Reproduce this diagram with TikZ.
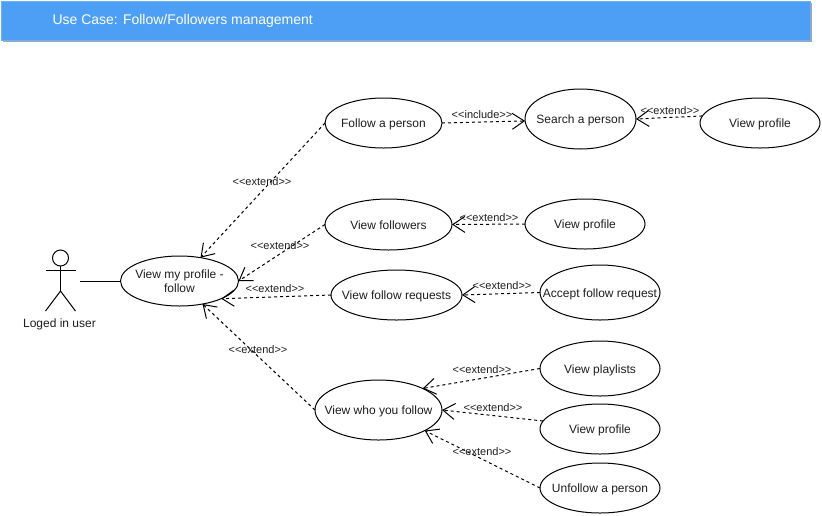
\documentclass[tikz,border=0pt]{standalone}
\usepackage{fontspec}
\setmainfont{Liberation Sans}
\usetikzlibrary{positioning}
\usetikzlibrary{arrows.meta}
\usetikzlibrary{shapes.geometric}
\usetikzlibrary{shadows}
\definecolor{headerblue}{HTML}{4C9FF5}
\definecolor{headerline}{HTML}{6CB0F6}
\definecolor{inktext}{HTML}{1E1E1E}
\newcommand{\extendlabel}{<{}<extend>{}>}
\newcommand{\includelabel}{<{}<include>{}>}
\tikzset{
	usecase/.style = {draw = black, fill = white, ellipse, inner xsep = -25pt, inner ysep = -5pt, outer sep = 0pt, align = center, text height = 9pt, text depth = 0pt, text = inktext, font = \fontsize{12}{14}\selectfont},
	stereo/.style = {inner sep = 0pt, text = inktext, font = \fontsize{11}{13}\selectfont},
	relation/.style = {black, dashed, dash pattern = on 3pt off 3pt, -{Straight Barb[length = 12pt, width = 16pt]}},
	actorline/.style = {black, line width = 1pt}
}
\begin{document}
\begin{tikzpicture}[x = 1pt, y = -1pt, line width = 1pt]
	\useasboundingbox (0, 0) rectangle (822, 515);
	\node (header) at (405.5, 20.5) [draw = headerline, fill = headerblue, minimum width = 809pt, minimum height = 39pt, inner sep = 0pt, outer sep = 0pt, drop shadow = {shadow xshift = 2pt, shadow yshift = -2pt, fill = black!35, opacity = 1}] {};
	\node (title) at (52, 21) [anchor = west, inner sep = 0pt, text = white, font = \fontsize{14}{17}\selectfont] {Use Case: Follow/Followers management};

	\node (profile) at (179.5, 281) [usecase, text height = 22pt, minimum width = 118pt, minimum height = 50pt] {View my profile -\\follow};
	\node (follow) at (383.5, 123) [usecase, minimum width = 117pt, minimum height = 50pt] {Follow a person};
	\node (search) at (580.5, 119) [usecase, minimum width = 111pt, minimum height = 60pt] {Search a person};
	\node (searchview) at (760, 123) [usecase, minimum width = 120pt, minimum height = 50pt] {View profile};
	\node (followers) at (388.5, 224.5) [usecase, minimum width = 127pt, minimum height = 51pt] {View followers};
	\node (followersview) at (585, 224) [usecase, minimum width = 120pt, minimum height = 50pt] {View profile};
	\node (requests) at (396.5, 295) [usecase, minimum width = 131pt, minimum height = 50pt] {View follow requests};
	\node (accept) at (600, 292.5) [usecase, minimum width = 120pt, minimum height = 55pt] {Accept follow request};
	\node (following) at (378.5, 410) [usecase, minimum width = 127pt, minimum height = 60pt] {View who you follow};
	\node (playlists) at (600, 368.5) [usecase, minimum width = 120pt, minimum height = 55pt] {View playlists};
	\node (followingview) at (600, 429) [usecase, minimum width = 120pt, minimum height = 50pt] {View profile};
	\node (unfollow) at (600, 488) [usecase, minimum width = 120pt, minimum height = 50pt] {Unfollow a person};

	\node (head) at (60.5, 258) [draw = black, circle, minimum size = 16pt, inner sep = 0pt, outer sep = 0pt] {};
	\coordinate (hip) at (60.5, 291);
	\coordinate (armleft) at (45.5, 270);
	\coordinate (armright) at (75.5, 270);
	\coordinate (legleft) at (45.5, 311);
	\coordinate (legright) at (75.5, 311);
	\coordinate (actorside) at (80, 281);
	\draw[actorline] (head.south)--(hip);
	\draw[actorline] (armleft)--(armright);
	\draw[actorline] (legleft)--(hip)--(legright);
	\node (actorname) at (59.5, 324.5) [inner sep = 0pt, text = inktext, font = \fontsize{12}{15}\selectfont] {Loged in user};
	\draw[black] (actorside)--(profile.west);

	\draw[relation] (follow.west)--(profile.48);
	\draw[relation] (followers.west)--(profile.east);
	\draw[relation] (requests.west)--(profile.-23);
	\draw[relation] (following.west)--(profile.-45);
	\draw[relation] (follow.east)--(search.182);
	\draw[relation] (searchview.173)--(search.east);
	\draw[relation] (followersview.west)--(followers.east);
	\draw[relation] (accept.west)--(requests.east);
	\draw[relation] (playlists.west)--(following.26);
	\draw[relation] (followingview.172)--(following.east);
	\draw[relation] (unfollow.west)--(following.-24);

	\node (extendfollow) at (262, 181.5) [stereo] {\extendlabel};
	\node (extendfollowers) at (280, 245.5) [stereo] {\extendlabel};
	\node (extendrequests) at (275, 288.5) [stereo] {\extendlabel};
	\node (extendfollowing) at (258, 349.5) [stereo] {\extendlabel};
	\node (includesearch) at (482, 114.5) [stereo] {\includelabel};
	\node (extendsearch) at (670, 110.5) [stereo] {\extendlabel};
	\node (extendfollowersview) at (489, 217.5) [stereo] {\extendlabel};
	\node (extendaccept) at (502, 285.5) [stereo] {\extendlabel};
	\node (extendplaylists) at (482, 369.5) [stereo] {\extendlabel};
	\node (extendfollowingview) at (493, 407.5) [stereo] {\extendlabel};
	\node (extendunfollow) at (482, 451.5) [stereo] {\extendlabel};
\end{tikzpicture}
\end{document}
